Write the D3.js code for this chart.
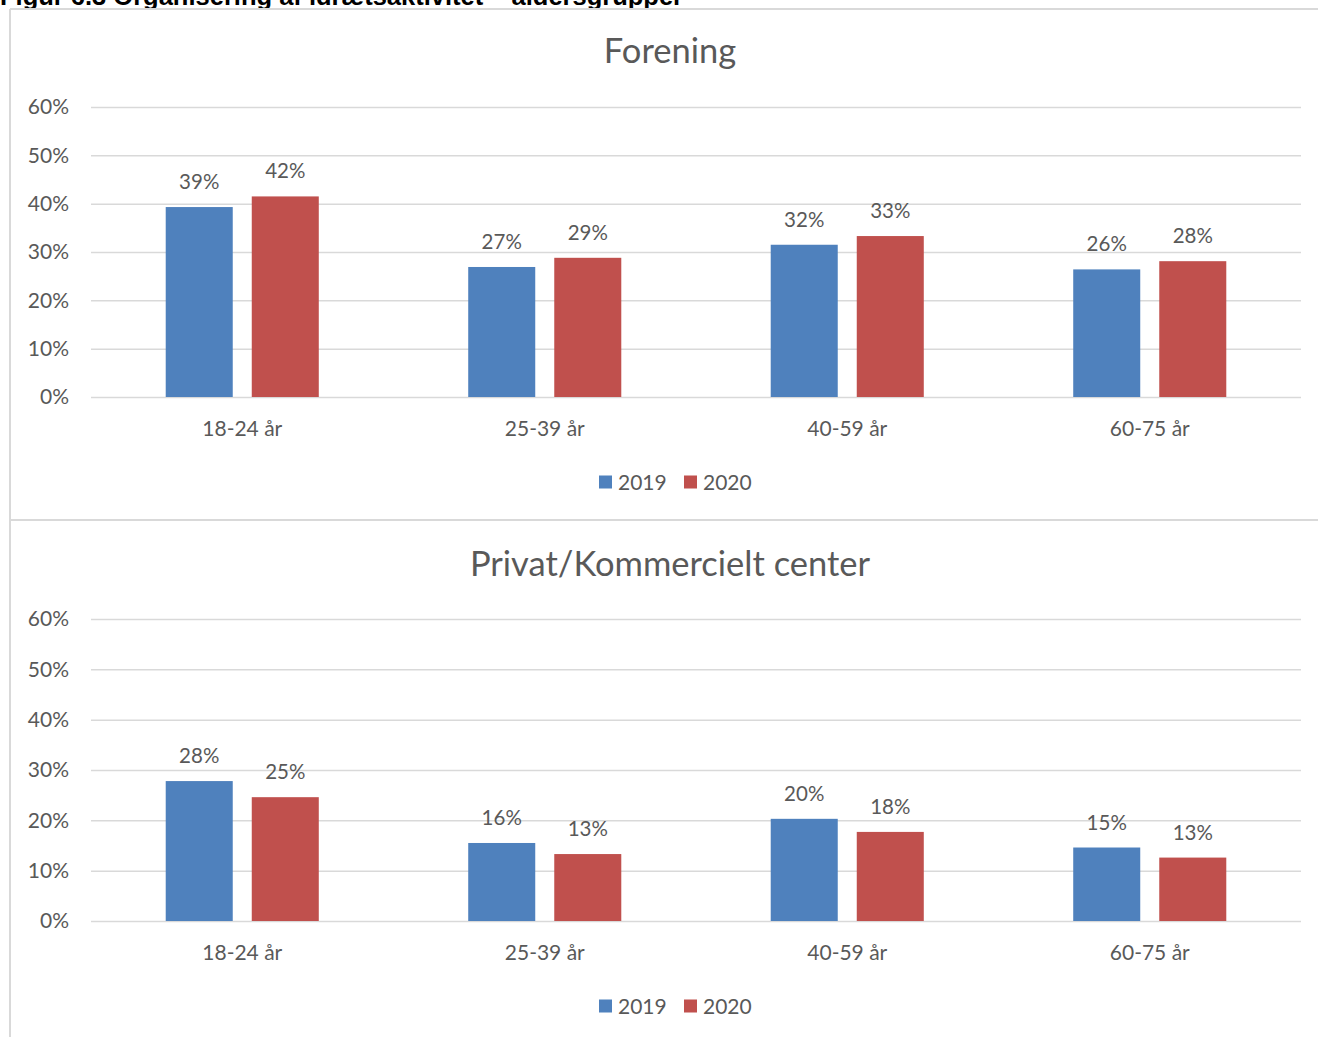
<!DOCTYPE html>
<html>
<head>
<meta charset="utf-8">
<script src="https://cdn.jsdelivr.net/npm/d3@7/dist/d3.min.js"></script>
<style>
  html, body { margin: 0; padding: 0; background: #fff; }
  svg { display: block; }
  text { font-family: Lato, "Open Sans", sans-serif; fill: #595959; }
</style>
</head>
<body>
<svg id="chart" width="1318" height="1037"></svg>
<script>
// ---- data ----
const figureTitle = "Figur 6.3 Organisering af idrætsaktivitet – aldersgrupper";
const categories = ["18-24 år", "25-39 år", "40-59 år", "60-75 år"];
const seriesNames = ["2019", "2020"];
const seriesColors = ["#4F81BD", "#C0504D"];
const yTickValues = [0, 10, 20, 30, 40, 50, 60];
const panelTitles = ["Forening", "Privat/Kommercielt center"];
const forening2019 = [39.3, 26.9, 31.5, 26.4];
const forening2020 = [41.5, 28.8, 33.3, 28.1];
const privat2019 = [27.8, 15.5, 20.3, 14.6];
const privat2020 = [24.6, 13.3, 17.7, 12.6];

const panels = [
  { title: panelTitles[0], values: [forening2019, forening2020], top: 107, bottom: 397, titleY: 63, legendY: 482, catY: 436 },
  { title: panelTitles[1], values: [privat2019, privat2020], top: 619, bottom: 921, titleY: 576, legendY: 1006, catY: 960 }
];

const svg = d3.select("#chart");
const left = 91, right = 1301;
const gridColor = "#d9d9d9";

// figure heading (cut off at the top edge, as in the source)
svg.append("text")
  .attr("x", 0).attr("y", 5)
  .style("font-family", "'Liberation Sans', Arial, sans-serif")
  .style("font-weight", "bold").style("font-size", "25.5px").style("fill", "#000")
  .text(figureTitle);

// panel frames
svg.append("line").attr("x1", 10).attr("x2", 1318).attr("y1", 9).attr("y2", 9)
  .attr("stroke", gridColor).attr("stroke-width", 2);
svg.append("line").attr("x1", 10).attr("x2", 10).attr("y1", 9).attr("y2", 1037)
  .attr("stroke", gridColor).attr("stroke-width", 2);
svg.append("line").attr("x1", 10).attr("x2", 1318).attr("y1", 520).attr("y2", 520)
  .attr("stroke", gridColor).attr("stroke-width", 2);

const x0 = d3.scaleBand().domain(categories).range([left, right]).paddingInner(0.494).paddingOuter(0.247);
const x1 = d3.scaleBand().domain(seriesNames).range([0, x0.bandwidth()]).paddingInner(0.221).paddingOuter(0);

panels.forEach(p => {
  const g = svg.append("g");
  const y = d3.scaleLinear().domain([0, 60]).range([p.bottom, p.top]);

  // grid + y labels
  const yAxis = g.append("g").attr("transform", `translate(${left},0)`)
    .call(d3.axisLeft(y).tickValues(yTickValues).tickSize(-(right - left)).tickPadding(22).tickFormat(d => d + "%"));
  yAxis.select(".domain").remove();
  yAxis.selectAll(".tick line").attr("stroke", gridColor).attr("stroke-width", 1.5);
  yAxis.selectAll(".tick text").style("font-size", "21px").style("font-family", "Lato, sans-serif").attr("fill", "#595959");

  // title
  g.append("text").attr("x", 670).attr("y", p.titleY).attr("text-anchor", "middle")
    .style("font-size", "34.5px").text(p.title);

  // bars
  const data = [];
  categories.forEach((c, i) => seriesNames.forEach((s, j) => data.push({ c, s, j, v: p.values[j][i] })));
  g.selectAll("rect.bar").data(data).join("rect").attr("class", "bar")
    .attr("x", d => x0(d.c) + x1(d.s))
    .attr("width", x1.bandwidth())
    .attr("y", d => y(d.v))
    .attr("height", d => y(0) - y(d.v))
    .attr("fill", d => seriesColors[d.j]);

  // data labels
  g.selectAll("text.lbl").data(data).join("text").attr("class", "lbl")
    .attr("x", d => x0(d.c) + x1(d.s) + x1.bandwidth() / 2)
    .attr("y", d => y(d.v) - 18)
    .attr("text-anchor", "middle")
    .style("font-size", "20.5px")
    .text(d => Math.round(d.v) + "%");

  // category labels
  const xAxis = g.append("g").attr("transform", `translate(0,${p.bottom})`)
    .call(d3.axisBottom(x0).tickSize(0).tickPadding(0));
  xAxis.select(".domain").remove();
  xAxis.selectAll(".tick text").attr("y", p.catY - p.bottom).attr("dy", null)
    .style("font-size", "21px").style("font-family", "Lato, sans-serif").attr("fill", "#595959");

  // legend
  const legendX = [599, 684];
  seriesNames.forEach((s, j) => {
    g.append("rect").attr("x", legendX[j]).attr("y", p.legendY - 6.5).attr("width", 13).attr("height", 13)
      .attr("fill", seriesColors[j]);
    g.append("text").attr("x", legendX[j] + 19).attr("y", p.legendY + 7.5)
      .style("font-size", "21px").text(s);
  });
});
</script>
</body>
</html>
